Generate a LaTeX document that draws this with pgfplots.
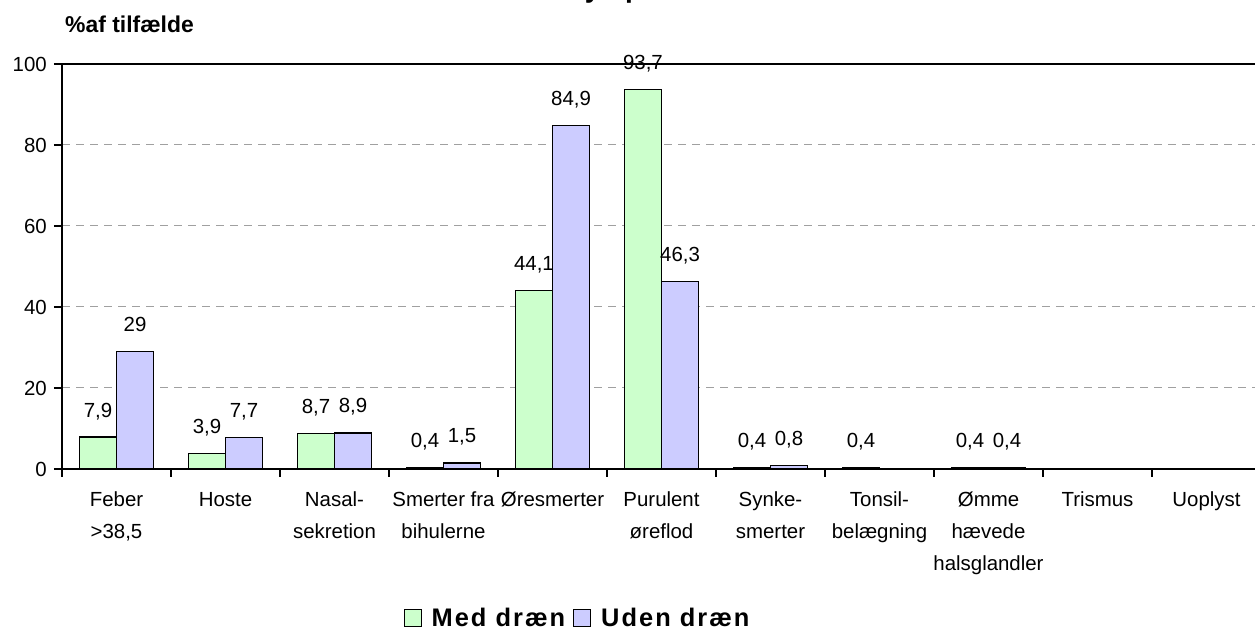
\documentclass[border=0pt]{standalone}
\usepackage{fontspec}
\setmainfont{Liberation Sans}
\usepackage{pgfplots}
\pgfplotsset{compat=1.18}
\definecolor{grn}{HTML}{CCFFCC}
\definecolor{blu}{HTML}{CCCCFF}
\definecolor{gridgray}{HTML}{A0A0A0}
\begin{document}
\begin{tikzpicture}
\begin{axis}[
  at={(62bp,170bp)}, anchor=south west,
  scale only axis, width=1199bp, height=405bp,
  xmin=-0.5, xmax=10.5, ymin=0, ymax=100,
  clip=false,
  ybar, bar width=0.34,
  axis line style={line width=1.3bp, black},
  tick align=outside, xtick pos=bottom, ytick pos=left,
  major tick length=8bp,
  tick style={line width=1.3bp, black},
  xtick={-0.5,0.5,...,10.5},
  xticklabels={},
  extra x ticks={0,1,...,10},
  extra x tick labels={{Feber\\>38,5}, Hoste, {Nasal-\\sekretion}, {Smerter fra\\bihulerne}, Øresmerter, {Purulent\\øreflod}, {Synke-\\smerter}, {Tonsil-\\belægning}, {Ømme\\hævede\\halsglandler}, Trismus, Uoplyst},
  extra x tick style={tick style={draw=none}, grid=none,
    tick label style={align=center, anchor=north, inner sep=0pt, yshift=-15bp,
      font=\fontsize{20.5}{32}\selectfont}},
  ytick={0,20,...,100},
  yticklabel style={font=\fontsize{20.5}{20.5}\selectfont, anchor=east, inner sep=0pt, xshift=-7bp},
  /pgf/number format/assume math mode=true,
  /pgf/number format/use comma,
  ymajorgrids,
  grid style={gridgray, line width=1bp, dash pattern=on 8bp off 6bp},
  nodes near coords,
  every node near coord/.append style={font=\fontsize{20.5}{20.5}\selectfont, anchor=base, yshift=20bp, inner sep=0pt},
  legend columns=2,
  legend style={at={(0.43,-0.368)}, anchor=center, draw=none, fill=none,
    font=\fontsize{25.5}{25.5}\selectfont\bfseries\addfontfeatures{LetterSpace=8},
    /tikz/every odd column/.append style={column sep=8bp},
    /tikz/every even column/.append style={column sep=6bp}},
  legend image code/.code={\draw[#1, line width=1bp] (0bp,-8.5bp) rectangle (17bp,8.5bp);},
]
\addplot[fill=grn, draw=black, line width=1.3bp, bar shift=-0.17] coordinates {
 (0,7.9) (1,3.9) (2,8.7) (3,0.4) (4,44.1) (5,93.7) (6,0.4) (7,0.4) (8,0.4)};
\addplot[fill=blu, draw=black, line width=1.3bp, bar shift=0.17] coordinates {
 (0,29) (1,7.7) (2,8.9) (3,1.5) (4,84.9) (5,46.3) (6,0.8) (8,0.4)};
\legend{Med dræn, Uden dræn}
\end{axis}
\node[anchor=base west, inner sep=0pt, font=\fontsize{23}{23}\selectfont\bfseries] at (65bp,606bp) {\%af tilfælde};
\node[anchor=base west, inner sep=0pt, font=\fontsize{28}{28}\selectfont\bfseries] at (566bp,641bp) {Symptomer};
\pgfresetboundingbox
\useasboundingbox (0,0) rectangle (1255bp,639bp);
\end{tikzpicture}
\end{document}
